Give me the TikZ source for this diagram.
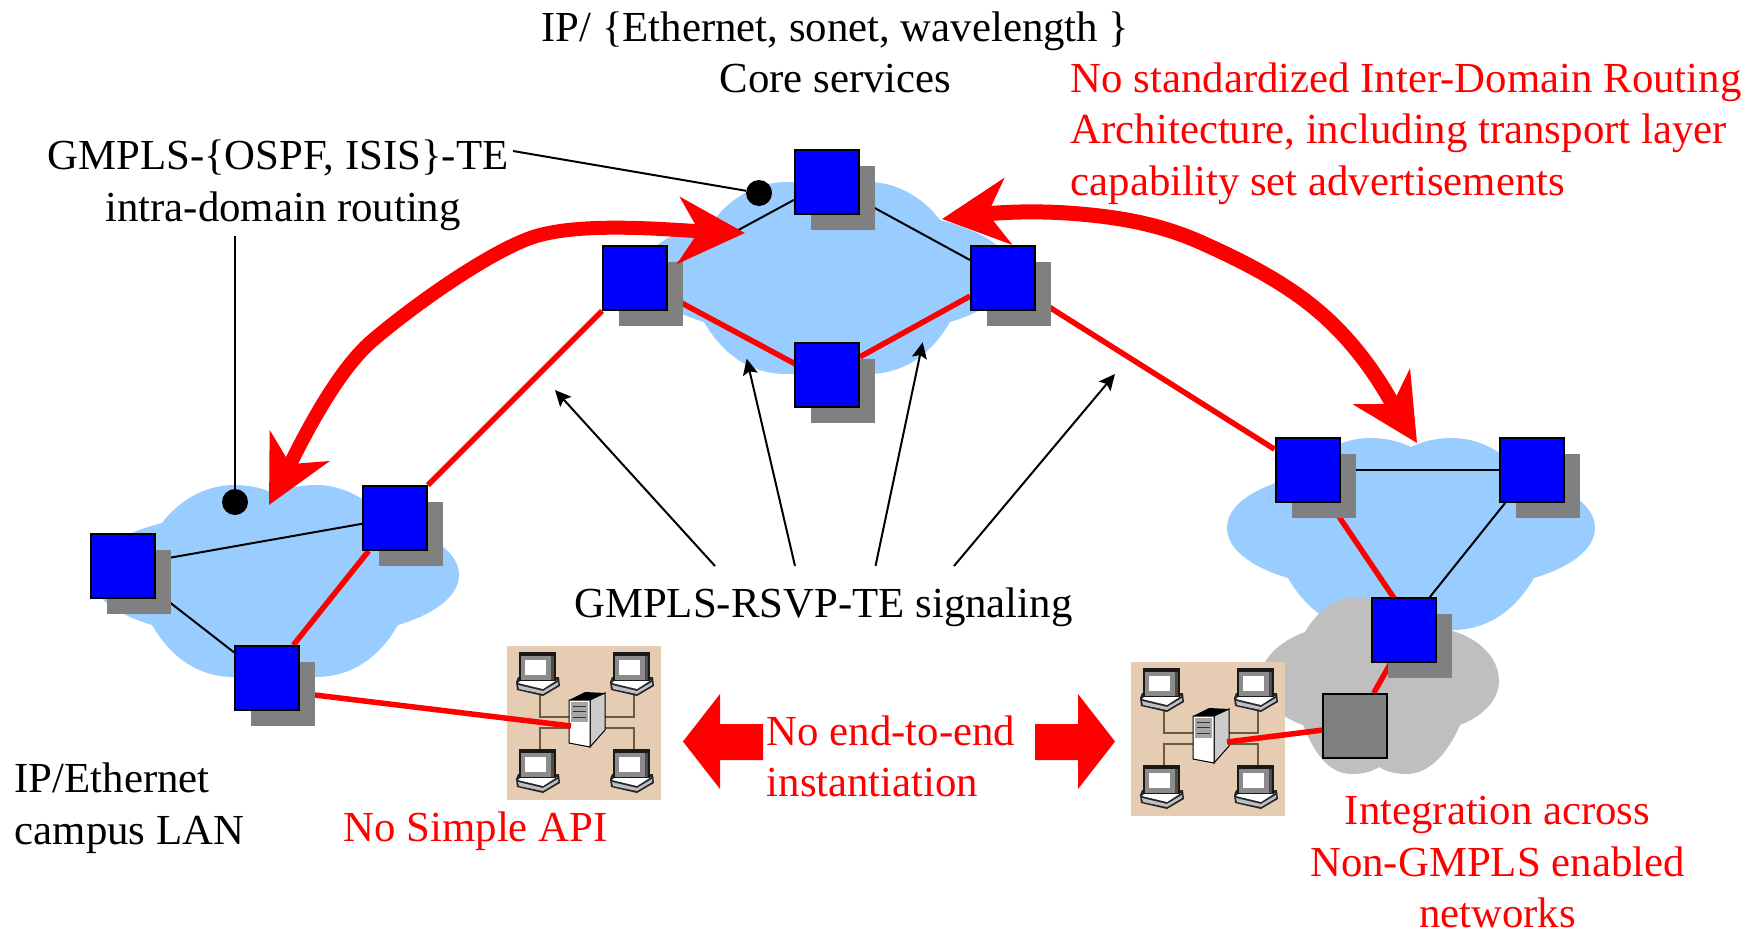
\documentclass[tikz,border=0pt]{standalone}
\usepackage{fontspec}
\setmainfont{Liberation Serif}
\usetikzlibrary{arrows.meta, calc, shadows, backgrounds}
\definecolor{cloudblue}{HTML}{99CCFF}
\definecolor{cloudgray}{HTML}{BFBFBF}
\definecolor{shadowgray}{HTML}{808080}
\definecolor{lanbeige}{HTML}{E6CCB3}
\definecolor{lanwire}{HTML}{6B5A45}
\tikzset{
    router/.style={rectangle, draw=black, line width=2pt, fill=blue, minimum size=64pt, inner sep=0pt, general shadow={shadow xshift=16pt, shadow yshift=-16pt, fill=shadowgray}},
    gateway/.style={rectangle, draw=black, line width=2pt, fill=shadowgray, minimum size=64pt, inner sep=0pt},
    landot/.style={circle, fill=black, minimum size=26pt, inner sep=0pt},
    lanbox/.style={rectangle, fill=lanbeige, minimum size=154pt, inner sep=0pt},
    thinlink/.style={draw=black, line width=2pt},
    redlink/.style={draw=red, line width=5.5pt},
    signal/.style={draw=black, line width=2pt, -{Stealth[length=16pt, width=15pt, inset=3pt]}},
    bigarrow/.style={draw=red, {Stealth[length=66pt, width=66pt, inset=20pt]}-{Stealth[length=66pt, width=66pt, inset=20pt]}},
    blackttxt/.style={inner sep=0pt, font=\fontsize{42.8}{51.5}\selectfont},
    redtxt/.style={blackttxt, text=red},
    pics/netcloud/.style={code={
        \fill[cloudblue] (0,-87) .. controls (12,-93) and (26,-96) .. (41,-96)
            .. controls (72,-96) and (98,-78) .. (113,-58)
            .. controls (155,-47) and (184,-30) .. (184,-6)
            .. controls (184,15) and (160,33) .. (123,44)
            .. controls (105,75) and (78,96) .. (41,96)
            .. controls (26,96) and (12,93) .. (0,90)
            .. controls (-12,93) and (-26,96) .. (-41,96)
            .. controls (-78,96) and (-105,75) .. (-123,44)
            .. controls (-160,33) and (-184,15) .. (-184,-6)
            .. controls (-184,-30) and (-155,-47) .. (-113,-58)
            .. controls (-98,-78) and (-72,-96) .. (-41,-96)
            .. controls (-26,-96) and (-12,-93) .. (0,-87) -- cycle;
    }},
    pics/pcicon/.style={code={
        \fill[black!85] (1,29) -- (3,24) -- (44,24) -- (45,33) -- (28,43) -- (2,37) -- cycle;
        \fill[white] (3,30) -- (6,27) -- (42,27) -- (28,36) -- cycle;
        \fill[black!25] (3,32) -- (28,38) -- (43,29) -- (43,32) -- (28,41) -- (4,36) -- cycle;
        \fill[black!90] (4,-1) rectangle (41,28);
        \fill[black!45] (6,3) rectangle (36,27);
        \fill[black!70] (36,3) rectangle (39,27);
        \fill[white] (10,7) rectangle (31,22);
    }},
    pics/lanicon/.style={code={
        \draw[lanwire, line width=1.2pt] (33,49) -- (33,71) -- (62,71);
        \draw[lanwire, line width=1.2pt] (127,49) -- (127,71) -- (98,71);
        \draw[lanwire, line width=1.2pt] (33,104) -- (33,82) -- (62,82);
        \draw[lanwire, line width=1.2pt] (127,104) -- (127,82) -- (98,82);
        \pic at (8,7) {pcicon};
        \pic at (102,7) {pcicon};
        \pic at (8,104) {pcicon};
        \pic at (102,104) {pcicon};
        \fill[black] (62,54) -- (78,46) -- (98,47) -- (83,54) -- cycle;
        \fill[black!20, draw=black, line width=1pt] (83,54) -- (98,47) -- (98,84) -- (83,101) -- cycle;
        \fill[white, draw=black, line width=1pt] (62,54) -- (83,54) -- (83,101) -- (62,97) -- cycle;
        \fill[black!35] (64,56) rectangle (81,76);
        \draw[black!80, line width=1pt] (66,60) -- (79,60) (66,65) -- (79,65) (66,71) -- (79,71);
    }}
}

\begin{document}
\begin{tikzpicture}[x=1pt, y=-1pt]
    \useasboundingbox (0,0) rectangle (1760,931);

    \node[router] (coretop) at (827,182) {};
    \node[router] (coreleft) at (635,278) {};
    \node[router] (coreright) at (1003,278) {};
    \node[router] (corebot) at (827,375) {};
    \node[router] (campusleft) at (123,566) {};
    \node[router] (campustop) at (395,518) {};
    \node[router] (campusbot) at (267,678) {};
    \node[router] (edgeleft) at (1307.5,470) {};
    \node[router] (edgeright) at (1531.5,470) {};
    \node[router] (edgebot) at (1403.5,630) {};
    \node[gateway] (nongmpls) at (1355,726) {};

    \begin{scope}[on background layer]
        \pic at (275,581) {netcloud};
        \pic at (827,278) {netcloud};
        \pic at (1411,534) {netcloud};
        \fill[cloudgray] (1305,632) .. controls (1318,610) and (1335,598) .. (1352,598)
            .. controls (1385,598) and (1420,605) .. (1453,631)
            .. controls (1482,640) and (1499,660) .. (1499,681)
            .. controls (1499,700) and (1483,716) .. (1460,725)
            .. controls (1447,755) and (1428,774) .. (1407,774)
            .. controls (1396,774) and (1387,772) .. (1379,767)
            .. controls (1372,772) and (1362,774) .. (1352,774)
            .. controls (1328,774) and (1314,752) .. (1303,725)
            .. controls (1278,716) and (1260,700) .. (1260,680)
            .. controls (1260,660) and (1278,642) .. (1305,632) -- cycle;

        \node[lanbox, anchor=north west] (lanleft) at (507,646) {};
        \node[lanbox, anchor=north west] (lanright) at (1131,662) {};
        \pic at (lanleft.north west) {lanicon};
        \pic at (lanright.north west) {lanicon};
        \coordinate (srvleft) at (571,726);
        \coordinate (srvright) at (1227,742);

        \draw[thinlink] ($(coreleft)+(0,8)$) -- (coretop);
        \draw[thinlink] (coretop) -- (coreright);
        \draw[thinlink] (campusleft) -- (campustop);
        \draw[thinlink] (campusleft) -- (campusbot);
        \draw[thinlink] (edgeleft) -- (edgeright);
        \draw[thinlink] (edgeright) -- (edgebot);
        \draw[redlink] (coreleft) -- ($(corebot)+(0,6)$);
        \draw[redlink] (corebot) -- (coreright);
        \draw[redlink] (coreleft) -- (campustop);
        \draw[redlink] (coreright) -- (edgeleft);
        \draw[redlink] (campustop) -- (campusbot);
        \draw[redlink] ($(campusbot)+(23,14)$) -- (srvleft);
        \draw[redlink] (edgeleft) -- ($(edgebot)+(12,0)$);
        \draw[redlink] ($(edgebot)+(6,0)$) -- (nongmpls);
        \draw[redlink] (srvright) -- (nongmpls);
    \end{scope}

    \node[landot] (ospfdot) at (759,193) {};
    \node[landot] (campusdot) at (235,502) {};

    % red arrows between domains
    \coordinate (inleft) at (745,233);
    \coordinate (incampus) at (269,505);
    \coordinate (inright) at (942,219);
    \coordinate (inedge) at (1417,443);
    \draw[bigarrow, line width=14pt] (inleft) .. controls (670,230) and (590,222) .. (540,235)
        .. controls (500,245) and (420,300) .. (373,340)
        .. controls (335,372) and (300,445) .. (incampus);
    \draw[bigarrow, line width=15pt] (inright) .. controls (985,214) and (1020,210) .. (1067,213)
        .. controls (1110,216) and (1155,222) .. (1200,242)
        .. controls (1245,262) and (1285,283) .. (1317,310)
        .. controls (1365,350) and (1390,400) .. (inedge);

    \fill[red] (683,741.5) -- (720,694) -- (720,724) -- (763,724) -- (763,760) -- (720,760) -- (720,789) -- cycle;
    \fill[red] (1115,741.5) -- (1078,694) -- (1078,724) -- (1035,724) -- (1035,760) -- (1078,760) -- (1078,789) -- cycle;

    \node[blackttxt, align=center, anchor=base] (coretxt) at (835.5,93) {IP/ \{Ethernet, sonet, wavelength \}\\Core services};
    \node[redtxt, align=left, anchor=base west] (interdomain) at (1070.5,195) {No standardized Inter-Domain Routing\\Architecture, including transport layer\\capability set advertisements};
    \node[blackttxt, align=center, anchor=base] (ospftxt) at (283,221) {GMPLS-\{OSPF, ISIS\}-TE\hspace{10pt}\mbox{}\\intra-domain routing};
    \node[blackttxt, align=left, anchor=base west] (campustxt) at (14.5,844) {IP/Ethernet\\campus LAN};
    \node[redtxt, anchor=base west] (apitxt) at (343.5,841) {No Simple API};
    \node[redtxt, align=left, anchor=base west] (endtxt) at (766.5,796.5) {No end-to-end\\instantiation};
    \node[redtxt, align=center, anchor=base] (nongmplstxt) at (1497.5,927.5) {Integration across\\Non-GMPLS enabled\\networks};
    \node[blackttxt, anchor=base west] (signaling) at (574,617) {GMPLS-RSVP-TE signaling};

    \coordinate (ospfend) at (513,151);
    \coordinate (campusend) at (235,236);
    \draw[thinlink] (ospfend) -- (ospfdot);
    \draw[thinlink] (campusend) -- (campusdot);

    \foreach \i/\fx/\tx/\ty in {a/715/555/390, b/795/746.7/358.7, c/875.5/922.7/342.3, d/954/1115/374}{
        \coordinate (sigtail\i) at (\fx,566);
        \coordinate (sigtip\i) at (\tx,\ty);
        \draw[signal] (sigtail\i) -- (sigtip\i);
    }
\end{tikzpicture}
\end{document}
